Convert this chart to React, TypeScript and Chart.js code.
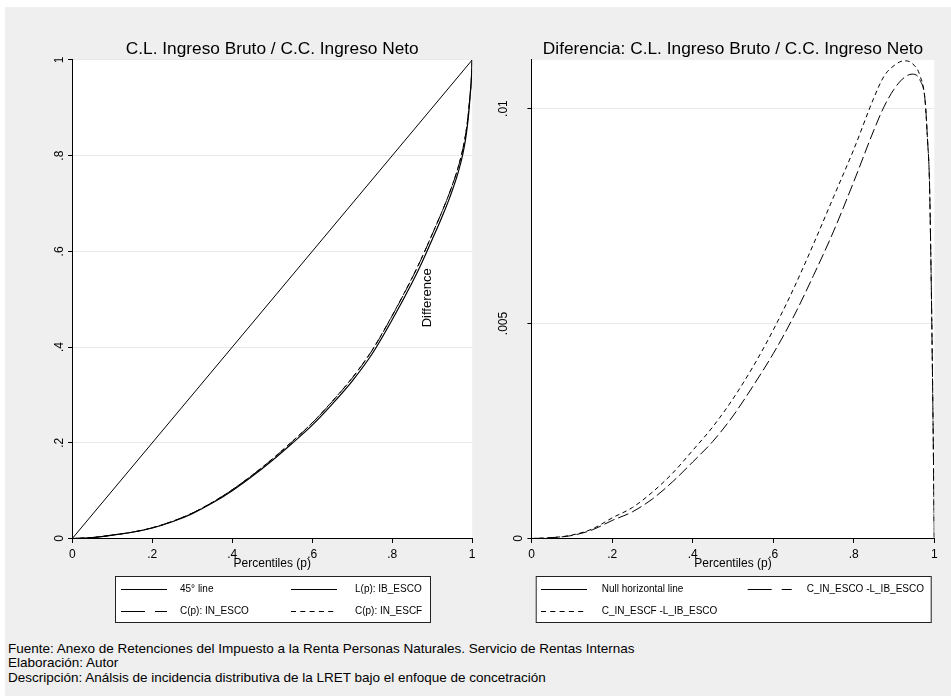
import React, { useEffect, useRef } from 'react';
import { Chart, registerables } from 'chart.js';

Chart.register(...registerables);

// ---------- data ----------
const percentiles = [0, 0.05, 0.1, 0.15, 0.2, 0.25, 0.3, 0.35, 0.4, 0.45, 0.5, 0.55, 0.6, 0.65, 0.7, 0.75, 0.8, 0.85, 0.875, 0.9, 0.925, 0.945, 0.965, 0.977, 0.983, 0.988, 0.9915, 0.994, 0.998, 1];
const lorenzIB_ESCO = [0, 0.002, 0.007, 0.013, 0.022, 0.035, 0.052, 0.074, 0.1, 0.13, 0.163, 0.199, 0.237, 0.281, 0.329, 0.386, 0.457, 0.535, 0.578, 0.625, 0.673, 0.715, 0.765, 0.805, 0.832, 0.862, 0.89, 0.915, 0.96, 1];
const diffIN_ESCO = [0, 0.00002, 0.00007, 0.0002, 0.00042, 0.00062, 0.00092, 0.00132, 0.00178, 0.00226, 0.00285, 0.00355, 0.0043, 0.00515, 0.00612, 0.00715, 0.0083, 0.0095, 0.01004, 0.01045, 0.01072, 0.0108, 0.01065, 0.0102, 0.0093, 0.0083, 0.0065, 0.0049, 0.0018, 0];
const diffIN_ESCF = [0, 0.00002, 0.00008, 0.00022, 0.00048, 0.00072, 0.00108, 0.00152, 0.00205, 0.0026, 0.00325, 0.004, 0.00485, 0.0058, 0.00685, 0.00795, 0.00905, 0.01025, 0.01075, 0.011, 0.01111, 0.01105, 0.01075, 0.0102, 0.0093, 0.0083, 0.0065, 0.0049, 0.0018, 0];
const diagonalX = [0, 1];
const diagonalY = [0, 1];
const nullLineX = [0, 1];
const nullLineY = [0, 0];

const xTickValues = [0, 0.2, 0.4, 0.6, 0.8, 1];
const leftYTickValues = [0, 0.2, 0.4, 0.6, 0.8, 1];
const rightYTickValues = [0, 0.005, 0.01];
const rightYMax = 0.01113;

const leftTitle = 'C.L. Ingreso Bruto / C.C. Ingreso Neto';
const rightTitle = 'Diferencia: C.L. Ingreso Bruto / C.C. Ingreso Neto';
const xAxisTitle = 'Percentiles (p)';
const leftLegendLabels = ['45° line', 'L(p): IB_ESCO', 'C(p): IN_ESCO', 'C(p): IN_ESCF'];
const rightLegendLabels = ['Null horizontal line', 'C_IN_ESCO -L_IB_ESCO', 'C_IN_ESCF -L_IB_ESCO'];
const differenceNote = { text: 'Difference', x: 0.887, y: 0.503 };
const footerLines = [
  'Fuente: Anexo de Retenciones del Impuesto a la Renta Personas Naturales. Servicio de Rentas Internas',
  'Elaboración: Autor',
  'Descripción: Análsis de incidencia distributiva de la LRET bajo el enfoque de concetración',
];

// ---------- helpers ----------
const FONT = '"Liberation Sans", Arial, Helvetica, sans-serif';
const LONG_DASH = [11, 4];
const SHORT_DASH = [4.5, 3.5];
const LONG_DASH_LEGEND = [24, 10];
const SHORT_DASH_LEGEND = [5, 4.3];

function fmt(v: number): string {
  if (v === 0) return '0';
  if (v === 1) return '1';
  return String(+v.toFixed(4)).replace(/^0\./, '.');
}

function pts(xs: number[], ys: number[]) {
  return xs.map((x, i) => ({ x, y: ys[i] }));
}

const plotBg = {
  id: 'plotBg',
  beforeDraw(chart: any) {
    const { ctx, chartArea: a } = chart;
    ctx.save();
    ctx.fillStyle = '#ffffff';
    ctx.fillRect(a.left, a.top, a.right - a.left, a.bottom - a.top);
    ctx.restore();
  },
};

const yLabels = {
  id: 'yLabels',
  afterDraw(chart: any, _args: any, opts: any) {
    const s = chart.scales.y;
    const ctx = chart.ctx;
    ctx.save();
    ctx.font = `12px ${FONT}`;
    ctx.fillStyle = '#000';
    ctx.textAlign = 'center';
    ctx.textBaseline = 'alphabetic';
    s.ticks.forEach((t: any) => {
      const y = s.getPixelForValue(t.value);
      const gap = t.value === 0 ? opts.zeroGap : opts.gap;
      ctx.save();
      ctx.translate(s.right - gap, y);
      ctx.rotate(-Math.PI / 2);
      ctx.fillText(fmt(t.value), 0, 0);
      ctx.restore();
    });
    ctx.restore();
  },
};

const noteLabel = {
  id: 'noteLabel',
  afterDraw(chart: any, _args: any, opts: any) {
    if (!opts || !opts.text) return;
    const ctx = chart.ctx;
    const x = chart.scales.x.getPixelForValue(opts.x);
    const y = chart.scales.y.getPixelForValue(opts.y);
    ctx.save();
    ctx.font = `13px ${FONT}`;
    ctx.fillStyle = '#000';
    ctx.textAlign = 'center';
    ctx.textBaseline = 'middle';
    ctx.translate(x, y);
    ctx.rotate(-Math.PI / 2);
    ctx.fillText(opts.text, 0, 0);
    ctx.restore();
  },
};

const boxLegend = {
  id: 'boxLegend',
  afterDraw(chart: any, _args: any, opts: any) {
    const ctx = chart.ctx;
    const { box, cols, rows } = opts;
    ctx.save();
    ctx.fillStyle = '#ffffff';
    ctx.fillRect(box.x, box.y, box.w, box.h);
    ctx.strokeStyle = '#222';
    ctx.lineWidth = 1;
    ctx.strokeRect(box.x + 0.5, box.y + 0.5, box.w, box.h);
    ctx.font = `10px ${FONT}`;
    ctx.fillStyle = '#000';
    ctx.textAlign = 'left';
    ctx.textBaseline = 'middle';
    chart.data.datasets.forEach((ds: any, i: number) => {
      const col = cols[i % 2];
      const y = rows[Math.floor(i / 2)];
      ctx.beginPath();
      ctx.setLineDash(ds.legendDash || []);
      ctx.strokeStyle = '#000';
      ctx.lineWidth = 1;
      ctx.moveTo(col.x0, y + 0.5);
      ctx.lineTo(col.x1, y + 0.5);
      ctx.stroke();
      ctx.setLineDash([]);
      ctx.fillText(ds.label, col.tx, y + 0.5);
    });
    ctx.restore();
  },
};

function lineDs(label: string, data: any[], dash: number[], legendDash: number[], width = 1) {
  return {
    label,
    data,
    borderColor: '#000',
    backgroundColor: '#000',
    borderWidth: width,
    borderDash: dash,
    legendDash,
    pointRadius: 0,
    fill: false,
    cubicInterpolationMode: 'monotone',
  };
}

function makeConfig(side: 'left' | 'right'): any {
  const isLeft = side === 'left';
  const cIN_ESCO = lorenzIB_ESCO.map((v, i) => v + diffIN_ESCO[i]);
  const cIN_ESCF = lorenzIB_ESCO.map((v, i) => v + diffIN_ESCF[i]);
  const datasets = isLeft
    ? [
        lineDs(leftLegendLabels[0], pts(diagonalX, diagonalY), [], []),
        lineDs(leftLegendLabels[1], pts(percentiles, lorenzIB_ESCO), [], [], 1.2),
        lineDs(leftLegendLabels[2], pts(percentiles, cIN_ESCO), LONG_DASH, LONG_DASH_LEGEND),
        lineDs(leftLegendLabels[3], pts(percentiles, cIN_ESCF), SHORT_DASH, SHORT_DASH_LEGEND),
      ]
    : [
        lineDs(rightLegendLabels[0], pts(nullLineX, nullLineY), [], []),
        lineDs(rightLegendLabels[1], pts(percentiles, diffIN_ESCO), LONG_DASH, LONG_DASH_LEGEND),
        lineDs(rightLegendLabels[2], pts(percentiles, diffIN_ESCF), SHORT_DASH, SHORT_DASH_LEGEND),
      ];
  const yTicks = isLeft ? leftYTickValues : rightYTickValues;
  return {
    type: 'line',
    data: { datasets },
    plugins: [plotBg, yLabels, noteLabel, boxLegend],
    options: {
      animation: false,
      responsive: false,
      devicePixelRatio: 1,
      events: [],
      layout: { padding: { left: 0, right: isLeft ? 6.7 : 16.7, top: 0, bottom: 58.5 } },
      scales: {
        x: {
          type: 'linear',
          min: 0,
          max: 1,
          afterBuildTicks: (s: any) => {
            s.ticks = xTickValues.map((v) => ({ value: v }));
          },
          ticks: {
            callback: (v: any) => fmt(Number(v)),
            font: { size: 12, family: FONT },
            color: '#000',
            padding: 4.5,
            maxRotation: 0,
            minRotation: 0,
            autoSkip: false,
          },
          grid: { drawOnChartArea: false, drawTicks: true, tickLength: 4.5, tickColor: '#000' },
          border: { display: true, color: '#000', width: 1 },
          title: {
            display: true,
            text: xAxisTitle,
            font: { size: 12, family: FONT },
            color: '#000',
            padding: { top: 0, bottom: 8 },
          },
          afterFit: (s: any) => {
            s.height = 40;
          },
        },
        y: {
          type: 'linear',
          min: 0,
          max: isLeft ? 1 : rightYMax,
          afterBuildTicks: (s: any) => {
            s.ticks = yTicks.map((v) => ({ value: v }));
          },
          ticks: { display: false },
          grid: { color: '#e8e8e8', lineWidth: 1, drawTicks: true, tickLength: 4.3, tickColor: '#000' },
          border: { display: true, color: '#000', width: 1 },
          afterFit: (s: any) => {
            s.width = isLeft ? 67.3 : 51.7;
          },
        },
      },
      plugins: {
        legend: { display: false },
        tooltip: { enabled: false },
        title: {
          display: true,
          text: isLeft ? leftTitle : rightTitle,
          fullSize: false,
          font: { size: 17.3, family: FONT, weight: 'normal', lineHeight: 1.2 },
          color: '#000',
          padding: { top: 32.2, bottom: 0 },
        },
        yLabels: isLeft ? { gap: 9.3, zeroGap: 9.3 } : { gap: 24.7, zeroGap: 9.7 },
        noteLabel: isLeft ? differenceNote : { text: '' },
        boxLegend: isLeft
          ? {
              box: { x: 110, y: 569, w: 315, h: 46 },
              cols: [
                { x0: 116, x1: 162, tx: 175 },
                { x0: 286, x1: 332, tx: 350 },
              ],
              rows: [582, 604],
            }
          : {
              box: { x: 55.7, y: 569, w: 395, h: 46 },
              cols: [
                { x0: 61, x1: 107, tx: 121.7 },
                { x0: 267.7, x1: 311.7, tx: 326.7 },
              ],
              rows: [582, 604],
            },
      },
    },
  };
}

function Panel({ side, left, width }: { side: 'left' | 'right'; left: number; width: number }) {
  const ref = useRef<HTMLCanvasElement | null>(null);
  useEffect(() => {
    if (!ref.current) return;
    const chart = new Chart(ref.current, makeConfig(side));
    return () => chart.destroy();
  }, [side]);
  return (
    <canvas
      ref={ref}
      width={width}
      height={630}
      style={{ position: 'absolute', left, top: 0, width, height: 630 }}
    />
  );
}

export default function App() {
  return (
    <div
      style={{
        position: 'absolute',
        left: 5,
        top: 7,
        width: 946,
        height: 689,
        background: '#efefef',
        overflow: 'hidden',
      }}
    >
      <Panel side="left" left={0} width={475} />
      <Panel side="right" left={475} width={471} />
      <div
        style={{
          position: 'absolute',
          left: 3,
          top: 635,
          fontFamily: FONT,
          fontSize: 13.5,
          lineHeight: '14.3px',
          color: '#000',
          whiteSpace: 'nowrap',
        }}
      >
        {footerLines.map((l, i) => (
          <div key={i}>{l}</div>
        ))}
      </div>
    </div>
  );
}
